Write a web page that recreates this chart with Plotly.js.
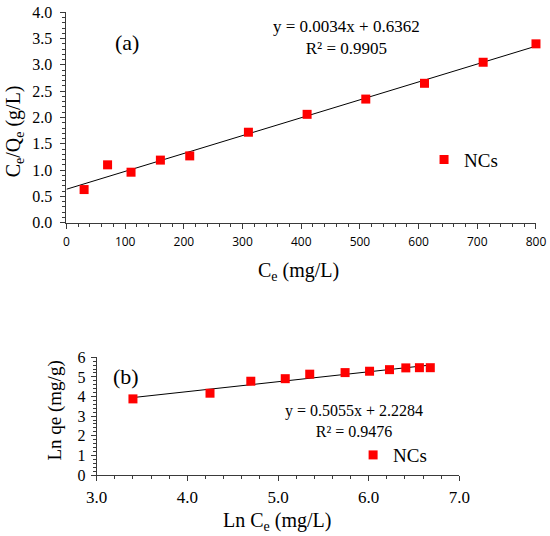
<!DOCTYPE html>
<html>
<head>
<meta charset="utf-8">
<script src="https://cdn.plot.ly/plotly-3.0.1.min.js"></script>
<style>html,body{margin:0;padding:0;background:#fff;}#chart{width:550px;height:536px;}</style>
</head>
<body>
<div id="chart"></div>
<script>
// Panel (a): Langmuir
var ceA = [30, 70, 110, 160, 210, 310, 410, 510, 610, 710, 800];
var ceQeA = [0.63, 1.10, 0.96, 1.19, 1.27, 1.72, 2.06, 2.35, 2.65, 3.05, 3.40];
var fitAx = [0, 800];
var fitAy = [0.6362, 3.3562];

// Panel (b): Freundlich
var lnCeB = [3.40, 4.25, 4.70, 5.08, 5.35, 5.74, 6.01, 6.23, 6.41, 6.56, 6.68];
var lnQeB = [3.88, 4.17, 4.78, 4.91, 5.14, 5.22, 5.29, 5.37, 5.46, 5.47, 5.47];
var fitBx = [3.40, 6.68];
var fitBy = [3.9471, 5.6051];

var serif = "Liberation Serif";
var sans = "Open Sans";
var axCol = "#3a3a3a";
var red = "#ff0000";

var traces = [
  {x: fitAx, y: fitAy, mode: "lines", line: {color: "#000", width: 1}, showlegend: false, hoverinfo: "skip", xaxis: "x", yaxis: "y"},
  {x: ceA, y: ceQeA, mode: "markers", name: "NCs", marker: {symbol: "square", size: 9, color: red}, cliponaxis: false, xaxis: "x", yaxis: "y", legend: "legend"},
  {x: fitBx, y: fitBy, mode: "lines", line: {color: "#000", width: 1}, showlegend: false, hoverinfo: "skip", xaxis: "x2", yaxis: "y2"},
  {x: lnCeB, y: lnQeB, mode: "markers", name: "NCs", marker: {symbol: "square", size: 9, color: red}, cliponaxis: false, xaxis: "x2", yaxis: "y2", legend: "legend2"}
];

function axisBase(extra) {
  var a = {
    showgrid: false, zeroline: false, showline: true, linecolor: axCol, linewidth: 1,
    ticks: "outside", ticklen: 5, tickcolor: axCol, tickwidth: 1,
    fixedrange: true
  };
  for (var k in extra) a[k] = extra[k];
  return a;
}

function ann(text, x, y, size, extra) {
  var a = {text: text, xref: "paper", yref: "paper", x: x, y: y, xanchor: "center", yanchor: "middle",
    showarrow: false, font: {family: serif, size: size, color: "#000"}};
  for (var k in (extra || {})) a[k] = extra[k];
  return a;
}

var layout = {
  width: 550, height: 536,
  margin: {l: 0, r: 0, t: 0, b: 0},
  paper_bgcolor: "#fff", plot_bgcolor: "rgba(0,0,0,0)",
  font: {family: serif, color: "#000"},
  hovermode: false,
  xaxis: axisBase({domain: [0.1209, 0.9745], range: [0, 800], dtick: 100, tick0: 0,
    tickfont: {family: sans, size: 12, color: "#000"}, ticklabelstandoff: 3,
    minor: {dtick: 20, ticks: "outside", ticklen: 3, tickcolor: axCol}, anchor: "y"}),
  yaxis: axisBase({domain: [0.5845, 0.9771], range: [0, 4], dtick: 0.5, tick0: 0, tickformat: ".1f",
    tickfont: {family: serif, size: 16, color: "#000"}, ticklabelstandoff: 5,
    minor: {dtick: 0.1, ticks: "outside", ticklen: 3, tickcolor: axCol}, anchor: "x"}),
  xaxis2: axisBase({domain: [0.1758, 0.8351], range: [3, 7], dtick: 1, tick0: 3, tickformat: ".1f",
    tickfont: {family: serif, size: 17, color: "#000"}, ticklabelstandoff: 2,
    minor: {dtick: 0.2, ticks: "outside", ticklen: 3, tickcolor: axCol}, anchor: "y2"}),
  yaxis2: axisBase({domain: [0.1138, 0.3334], range: [0, 6], dtick: 1, tick0: 0,
    tickfont: {family: serif, size: 16, color: "#000"}, ticklabelstandoff: 2,
    minor: {dtick: 0.2, ticks: "outside", ticklen: 3, tickcolor: axCol}, anchor: "x2"}),
  legend: {x: 0.771, y: 0.702, xanchor: "left", yanchor: "middle", bgcolor: "rgba(0,0,0,0)",
    font: {family: serif, size: 19, color: "#000"}, itemwidth: 30},
  legend2: {x: 0.642, y: 0.151, xanchor: "left", yanchor: "middle", bgcolor: "rgba(0,0,0,0)",
    font: {family: serif, size: 19, color: "#000"}, itemwidth: 30},
  annotations: [
    ann("(a)", 0.2318, 0.9198, 22),
    ann("y = 0.0034x + 0.6362<br>R² = 0.9905", 0.63, 0.930, 17),
    ann("C<sub>e</sub> (mg/L)", 0.5436, 0.4931, 20),
    ann("C<sub>e</sub>/Q<sub>e</sub> (g/L)", 0.0255, 0.755, 20, {textangle: -90}),
    ann("(b)", 0.2282, 0.2972, 22),
    ann("y = 0.5055x + 2.2284<br>R² = 0.9476", 0.6436, 0.2148, 16),
    ann("Ln qe (mg/g)", 0.1, 0.2341, 19, {textangle: -90}),
    ann("Ln C<sub>e</sub> (mg/L)", 0.5045, 0.0267, 20)
  ]
};

Plotly.newPlot("chart", traces, layout, {displayModeBar: false});
</script>
</body>
</html>
